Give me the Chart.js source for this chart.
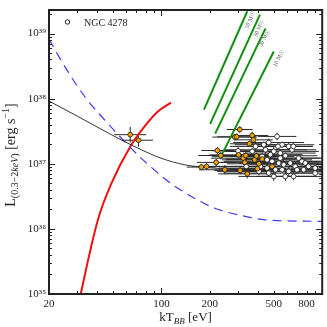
<!DOCTYPE html>
<html>
<head>
<meta charset="utf-8">
<script src="https://cdn.jsdelivr.net/npm/chart.js@4"></script>
<style>
  body { margin: 0; background: #fff; }
  canvas { display: block; }
</style>
</head>
<body>
<canvas id="grafico" width="327" height="327"></canvas>
<script>
// 1. DATOS
const ticksX = [20, 100, 200, 500, 800];
const ticksY = [1e35, 1e36, 1e37, 1e38, 1e39];

const negraX = [20, 30.4, 48.9, 71.4, 99.4, 139, 176, 251, 500, 1000];
const negraY = [9.2e37, 5.3e37, 2.79e37, 1.74e37, 1.22e37, 9.66e36, 8.9e36, 8.4e36, 8.2e36, 8.0e36];

const azulX = [20, 25.1, 33.4, 44.4, 59, 78.4, 114.6, 167, 213, 318, 444, 1000];
const azulY = [8.2e38, 3.1e38, 1.07e38, 4.7e37, 2.2e37, 1.1e37, 5.0e36, 2.8e36, 2.09e36, 1.59e36, 1.38e36, 1.3e36];

const rojaX = [30.9, 31.5, 40.3, 48.9, 64.1, 78.4, 94.8, 114.6];
const rojaY = [7.9e34, 1e35, 1.38e36, 5.0e36, 1.84e37, 3.72e37, 6.3e37, 8.7e37];

const masas = ['50 M☉', '30 M☉', '20 M☉', '10 M☉'];
const verdesX = [[184, 342], [201, 410], [216, 444], [239, 500]];
const verdesY = [[6.8e37, 2.2e39], [4.1e37, 1.95e39], [2.9e37, 1.2e39], [1.42e37, 5.3e38]];

const naranjaX = [64, 72, 177, 191, 219, 223, 234, 248, 286, 294, 307, 302, 309, 323, 330, 342, 353, 367, 374, 335, 380, 390, 395, 404, 423, 488];
const naranjaY = [2.8e37, 2.3e37, 8.9e36, 9.1e36, 1.05e37, 1.6e37, 1.34e37, 8.1e36, 2.57e37, 2.6e37, 3.36e37, 1.37e37, 7.9e36, 1.22e37, 1.05e37, 7.0e36, 2.03e37, 2.72e37, 2.33e37, 1.34e37, 1.15e37, 1.32e37, 8.4e36, 1.0e37, 1.18e37, 9.1e36];
const naranjaErrX = [0.10, 0.09, 0.09, 0.09, 0.12, 0.10, 0.14, 0.16, 0.14, 0.12, 0.08, 0.18, 0.16, 0.20, 0.15, 0.18, 0.12, 0.10, 0.12, 0.16, 0.18, 0.15, 0.18, 0.20, 0.22, 0.24];
const naranjaErrY = [0.12, 0.10, 0.05, 0.05, 0.06, 0.05, 0.06, 0.07, 0.05, 0.05, 0.05, 0.06, 0.06, 0.06, 0.05, 0.07, 0.05, 0.06, 0.05, 0.06, 0.06, 0.05, 0.06, 0.06, 0.06, 0.07];

const blancoX = [300, 326, 337, 524, 433, 465, 563, 619, 444, 500, 549, 590, 713, 748, 423, 454, 488, 536, 576, 633, 680, 785, 413, 454, 512, 563, 619, 697, 766, 904, 404, 500, 664, 904, 823, 465, 590, 549, 476, 649, 367, 385, 531, 661];
const blancoY = [1.58e37, 1.30e37, 9.1e36, 2.63e37, 1.96e37, 2.12e37, 1.96e37, 1.85e37, 1.64e37, 1.55e37, 1.46e37, 1.33e37, 1.22e37, 1.09e37, 1.30e37, 1.15e37, 1.09e37, 1.025e37, 9.67e36, 1.025e37, 9.11e36, 1.025e37, 9.11e36, 8.59e36, 8.10e36, 8.10e36, 7.64e36, 8.10e36, 8.10e36, 7.20e36, 7.64e36, 6.40e36, 6.40e36, 8.59e36, 9.11e36, 7.20e36, 6.40e36, 1.22e37, 1.38e37, 1.64e37, 1.55e37, 1.85e37, 1.85e37, 1.85e37];
const blancoErrX = [0.16, 0.20, 0.26, 0.12, 0.18, 0.22, 0.20, 0.15, 0.26, 0.28, 0.22, 0.20, 0.18, 0.26, 0.20, 0.28, 0.30, 0.25, 0.22, 0.30, 0.26, 0.20, 0.24, 0.30, 0.28, 0.30, 0.26, 0.22, 0.28, 0.18, 0.26, 0.22, 0.20, 0.15, 0.26, 0.28, 0.18, 0.25, 0.20, 0.15, 0.18, 0.16, 0.14, 0.12];
const blancoErrY = [0.06, 0.06, 0.07, 0.06, 0.05, 0.06, 0.05, 0.06, 0.06, 0.07, 0.06, 0.05, 0.06, 0.07, 0.06, 0.05, 0.06, 0.06, 0.07, 0.05, 0.06, 0.06, 0.06, 0.07, 0.06, 0.05, 0.07, 0.06, 0.05, 0.06, 0.06, 0.07, 0.06, 0.05, 0.06, 0.06, 0.07, 0.05, 0.06, 0.05, 0.06, 0.06, 0.05, 0.06];

const SERIF = "'Liberation Serif', 'DejaVu Serif', serif";
const sup = { '0': '⁰', '1': '¹', '2': '²', '3': '³', '4': '⁴', '5': '⁵', '6': '⁶', '7': '⁷', '8': '⁸', '9': '⁹' };

function puntos(xs, ys) {
    return xs.map((x, i) => ({ x: x, y: ys[i] }));
}

// 2. PLUGIN: barras de error, marco, ticks hacia dentro, títulos
function dibujarErrores(ctx, sx, sy, xs, ys, ex, ey) {
    xs.forEach((x, i) => {
        let px = sx.getPixelForValue(x), py = sy.getPixelForValue(ys[i]);
        let x1 = sx.getPixelForValue(x / Math.pow(10, ex[i])), x2 = sx.getPixelForValue(x * Math.pow(10, ex[i]));
        let y1 = sy.getPixelForValue(ys[i] / Math.pow(10, ey[i])), y2 = sy.getPixelForValue(ys[i] * Math.pow(10, ey[i]));
        ctx.beginPath();
        ctx.moveTo(x1, py); ctx.lineTo(x2, py);
        ctx.moveTo(px, y1); ctx.lineTo(px, y2);
        ctx.stroke();
    });
}

function textoPartes(ctx, partes, x0, y0, centrado) {
    let total = 0;
    partes.forEach(p => { ctx.font = p.f; total += ctx.measureText(p.t).width; });
    let x = centrado ? x0 - total / 2 : x0;
    partes.forEach(p => {
        ctx.font = p.f;
        ctx.fillText(p.t, x, y0 + p.dy);
        x += ctx.measureText(p.t).width;
    });
}

const ejesPlugin = {
    id: 'ejes',
    beforeDatasetsDraw(chart) {
        let ctx = chart.ctx, a = chart.chartArea;
        let sx = chart.scales.x, sy = chart.scales.y;
        ctx.save();
        ctx.beginPath();
        ctx.rect(a.left, a.top, a.right - a.left, a.bottom - a.top);
        ctx.clip();
        ctx.strokeStyle = '#2a2a2a';
        ctx.lineWidth = 1;
        dibujarErrores(ctx, sx, sy, blancoX, blancoY, blancoErrX, blancoErrY);
        dibujarErrores(ctx, sx, sy, naranjaX, naranjaY, naranjaErrX, naranjaErrY);
        ctx.restore();
    },
    afterDraw(chart) {
        let ctx = chart.ctx, a = chart.chartArea;
        let sx = chart.scales.x, sy = chart.scales.y;
        ctx.save();

        // etiquetas de masa en las rectas verdes
        let offs = [[3, 9], [-1, 14], [-1, 10], [5, 7]];
        ctx.fillStyle = '#555';
        ctx.font = '6px ' + SERIF;
        ctx.textAlign = 'center';
        ctx.textBaseline = 'middle';
        masas.forEach((m, i) => {
            let p0x = sx.getPixelForValue(verdesX[i][0]), p0y = sy.getPixelForValue(verdesY[i][0]);
            let p1x = sx.getPixelForValue(verdesX[i][1]), p1y = sy.getPixelForValue(verdesY[i][1]);
            let ang = Math.atan2(p1y - p0y, p1x - p0x);
            ctx.save();
            ctx.translate(p1x + offs[i][0], p1y + offs[i][1]);
            ctx.rotate(ang);
            ctx.fillText(m, 0, 0);
            ctx.restore();
        });

        // marco
        ctx.strokeStyle = '#222';
        ctx.lineWidth = 2;
        ctx.strokeRect(a.left, a.top, a.right - a.left, a.bottom - a.top);

        // ticks hacia dentro
        ctx.lineWidth = 1;
        ctx.beginPath();
        for (let d = 10; d <= 1000; d *= 10) {
            for (let k = 1; k < 10; k++) {
                let v = k * d;
                if (v <= 20 || v >= 1000) continue;
                let px = Math.round(sx.getPixelForValue(v)) + 0.5;
                let l = (k === 1) ? 6 : 3;
                ctx.moveTo(px, a.bottom); ctx.lineTo(px, a.bottom - l);
                ctx.moveTo(px, a.top); ctx.lineTo(px, a.top + l);
            }
        }
        for (let e = 35; e <= 39; e++) {
            for (let k = 1; k < 10; k++) {
                let v = k * Math.pow(10, e);
                if (v <= 1e35 || v >= sy.max) continue;
                let py = Math.round(sy.getPixelForValue(v)) + 0.5;
                let l = (k === 1) ? 6 : 3;
                ctx.moveTo(a.left, py); ctx.lineTo(a.left + l, py);
                ctx.moveTo(a.right, py); ctx.lineTo(a.right - l, py);
            }
        }
        ctx.stroke();

        // leyenda
        ctx.fillStyle = '#fff';
        ctx.strokeStyle = '#111';
        ctx.lineWidth = 0.9;
        ctx.beginPath();
        ctx.arc(67.5, 22, 2.2, 0, Math.PI * 2);
        ctx.fill(); ctx.stroke();
        ctx.fillStyle = '#222';
        ctx.textAlign = 'left';
        ctx.textBaseline = 'alphabetic';
        ctx.font = '10px ' + SERIF;
        ctx.fillText('NGC 4278', 84, 26);

        // título eje x
        textoPartes(ctx, [
            { t: 'kT', f: '13px ' + SERIF, dy: 0 },
            { t: 'BB', f: 'italic 9px ' + SERIF, dy: 3 },
            { t: ' [eV]', f: '13px ' + SERIF, dy: 0 }
        ], (a.left + a.right) / 2, 321, true);

        // título eje y
        ctx.translate(15, 155);
        ctx.rotate(-Math.PI / 2);
        textoPartes(ctx, [
            { t: 'L', f: '14px ' + SERIF, dy: 0 },
            { t: '(0.3−2', f: '10px ' + SERIF, dy: 3 },
            { t: 'keV', f: 'italic 10px ' + SERIF, dy: 3 },
            { t: ')', f: '10px ' + SERIF, dy: 3 },
            { t: ' [erg s', f: '14px ' + SERIF, dy: 0 },
            { t: '−1', f: '10px ' + SERIF, dy: -6 },
            { t: ']', f: '14px ' + SERIF, dy: 0 }
        ], 0, 0, true);

        ctx.restore();
    }
};

// 3. GRÁFICO
let linea = (datos, color, ancho, extra) => Object.assign({
    data: datos,
    showLine: true,
    borderColor: color,
    borderWidth: ancho,
    pointRadius: 0,
    cubicInterpolationMode: 'monotone',
    order: 5
}, extra || {});

let datasets = [
    {
        label: 'naranja',
        data: puntos(naranjaX, naranjaY),
        pointRadius: 2.4,
        pointBackgroundColor: '#f0a000',
        pointBorderColor: '#1a1a1a',
        pointBorderWidth: 0.8,
        order: 0
    },
    {
        label: 'NGC 4278',
        data: puntos(blancoX, blancoY),
        pointRadius: 2.4,
        pointBackgroundColor: '#ffffff',
        pointBorderColor: '#1a1a1a',
        pointBorderWidth: 0.8,
        order: 1
    },
    linea(puntos(negraX, negraY), '#333', 1),
    linea(puntos(azulX, azulY), '#3b3bf5', 1.2, { borderDash: [9, 6] }),
    linea(puntos(rojaX, rojaY), '#f01010', 2)
];
verdesX.forEach((xs, i) => {
    datasets.push(linea(puntos(xs, verdesY[i]), '#109010', 2, { cubicInterpolationMode: 'default', tension: 0 }));
});

new Chart(document.getElementById('grafico').getContext('2d'), {
    type: 'scatter',
    data: { datasets: datasets },
    options: {
        responsive: false,
        animation: false,
        layout: { padding: { left: 0, right: 4, top: 10, bottom: 0 } },
        plugins: { legend: { display: false }, tooltip: { enabled: false } },
        scales: {
            x: {
                type: 'logarithmic',
                min: 20,
                max: 1000,
                afterBuildTicks: s => { s.ticks = ticksX.map(v => ({ value: v })); },
                afterFit: s => { s.height = 33; },
                grid: { display: false, drawTicks: false },
                border: { display: false },
                ticks: {
                    color: '#222',
                    padding: 4,
                    maxRotation: 0,
                    autoSkip: false,
                    font: { family: SERIF, size: 11 },
                    callback: v => String(v)
                }
            },
            y: {
                type: 'logarithmic',
                min: 1e35,
                max: 2.3e39,
                afterBuildTicks: s => { s.ticks = ticksY.map(v => ({ value: v })); },
                afterFit: s => { s.width = 49; },
                grid: { display: false, drawTicks: false },
                border: { display: false },
                ticks: {
                    color: '#222',
                    padding: 3,
                    autoSkip: false,
                    font: { family: SERIF, size: 11 },
                    callback: v => '10' + String(Math.round(Math.log10(v))).split('').map(c => sup[c]).join('')
                }
            }
        }
    },
    plugins: [ejesPlugin]
});
</script>
</body>
</html>
